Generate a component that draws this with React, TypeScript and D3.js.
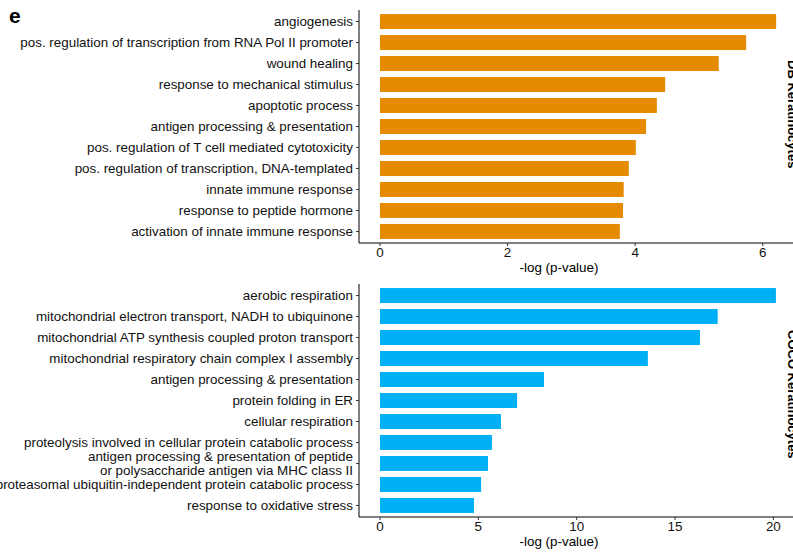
import React from "react";
import * as d3 from "d3";

// Enriched GO terms per keratinocyte group, ordered top to bottom
const termsDB = [
  "angiogenesis",
  "pos. regulation of transcription from RNA Pol II promoter",
  "wound healing",
  "response to mechanical stimulus",
  "apoptotic process",
  "antigen processing & presentation",
  "pos. regulation of T cell mediated cytotoxicity",
  "pos. regulation of transcription, DNA-templated",
  "innate immune response",
  "response to peptide hormone",
  "activation of innate immune response",
];
const valuesDB = [6.21, 5.74, 5.31, 4.47, 4.34, 4.17, 4.01, 3.9, 3.82, 3.81, 3.76];

const termsCO = [
  "aerobic respiration",
  "mitochondrial electron transport, NADH to ubiquinone",
  "mitochondrial ATP synthesis coupled proton transport",
  "mitochondrial respiratory chain complex I assembly",
  "antigen processing & presentation",
  "protein folding in ER",
  "cellular respiration",
  "proteolysis involved in cellular protein catabolic process",
  "antigen processing & presentation of peptide\nor polysaccharide antigen via MHC class II",
  "proteasomal ubiquitin-independent protein catabolic process",
  "response to oxidative stress",
];
const valuesCO = [20.13, 17.17, 16.27, 13.62, 8.34, 6.97, 6.15, 5.69, 5.49, 5.14, 4.78];

const ticksDB = [0, 2, 4, 6];
const ticksCO = [0, 5, 10, 15, 20];

const FONT = "'Liberation Sans', Arial, Helvetica, sans-serif";

type PanelProps = {
  terms: string[];
  values: number[];
  ticks: number[];
  xMax: number;
  top: number;
  bottom: number;
  color: string;
  strip: string;
  stripY: number;
};

function Panel({ terms, values, ticks, xMax, top, bottom, color, strip, stripY }: PanelProps) {
  const axisX = 359;
  const x = d3.scaleLinear().domain([0, xMax]).range([380, 794]);
  const y = d3.scalePoint<string>().domain(terms).range([top, bottom]).padding(0.55);
  const barH = y.step() * 0.714;

  return (
    <g>
      {/* bars */}
      {terms.map((t, i) => (
        <rect
          key={t}
          x={x(0)}
          y={(y(t) as number) - barH / 2}
          width={x(values[i]) - x(0)}
          height={barH}
          fill={color}
        />
      ))}
      {/* y axis */}
      <line x1={axisX} x2={axisX} y1={top} y2={bottom} stroke="#000" strokeWidth={1} />
      {terms.map((t) => {
        const cy = y(t) as number;
        const lines = t.split("\n");
        const lh = 13.5;
        return (
          <g key={"l" + t}>
            <line x1={axisX - 3} x2={axisX} y1={cy} y2={cy} stroke="#333" strokeWidth={1} />
            <text
              x={axisX - 6}
              textAnchor="end"
              fontSize={13.4}
              fontFamily={FONT}
              fill="#111"
            >
              {lines.map((ln, k) => (
                <tspan key={k} x={axisX - 6} y={cy + 4.6 + (k - (lines.length - 1) / 2) * lh}>
                  {ln}
                </tspan>
              ))}
            </text>
          </g>
        );
      })}
      {/* x axis */}
      <line x1={axisX} x2={793} y1={bottom} y2={bottom} stroke="#000" strokeWidth={1} />
      {ticks.map((v) => (
        <g key={"t" + v}>
          <line x1={x(v)} x2={x(v)} y1={bottom} y2={bottom + 3} stroke="#333" strokeWidth={1} />
          <text
            x={x(v)}
            y={bottom + 14}
            textAnchor="middle"
            fontSize={13.4}
            fontFamily={FONT}
            fill="#111"
          >
            {v}
          </text>
        </g>
      ))}
      <text
        x={559}
        y={bottom + 29}
        textAnchor="middle"
        fontSize={13.4}
        fontFamily={FONT}
        fill="#000"
      >
        -log (p-value)
      </text>
      {/* facet strip, running off the right edge of the figure */}
      <text
        transform={`translate(788,${stripY}) rotate(90)`}
        fontSize={13}
        fontWeight="bold"
        fontFamily={FONT}
        fill="#000"
      >
        {strip}
      </text>
    </g>
  );
}

export default function App() {
  return (
    <div style={{ position: "fixed", left: 0, top: 0 }}>
      <svg width={793} height={554} style={{ display: "block", background: "#fff" }}>
        <rect width={793} height={554} fill="#fff" />
        <text x={9} y={23} fontSize={21} fontWeight="bold" fontFamily={FONT} fill="#000">
          e
        </text>
        <Panel
          terms={termsDB}
          values={valuesDB}
          ticks={ticksDB}
          xMax={6.49}
          top={10}
          bottom={243}
          color="#E68A00"
          strip="DB Keratinocytes"
          stripY={60}
        />
        <Panel
          terms={termsCO}
          values={valuesCO}
          ticks={ticksCO}
          xMax={21.05}
          top={284}
          bottom={517}
          color="#00B0F6"
          strip="COCO Keratinocytes"
          stripY={330}
        />
      </svg>
    </div>
  );
}
